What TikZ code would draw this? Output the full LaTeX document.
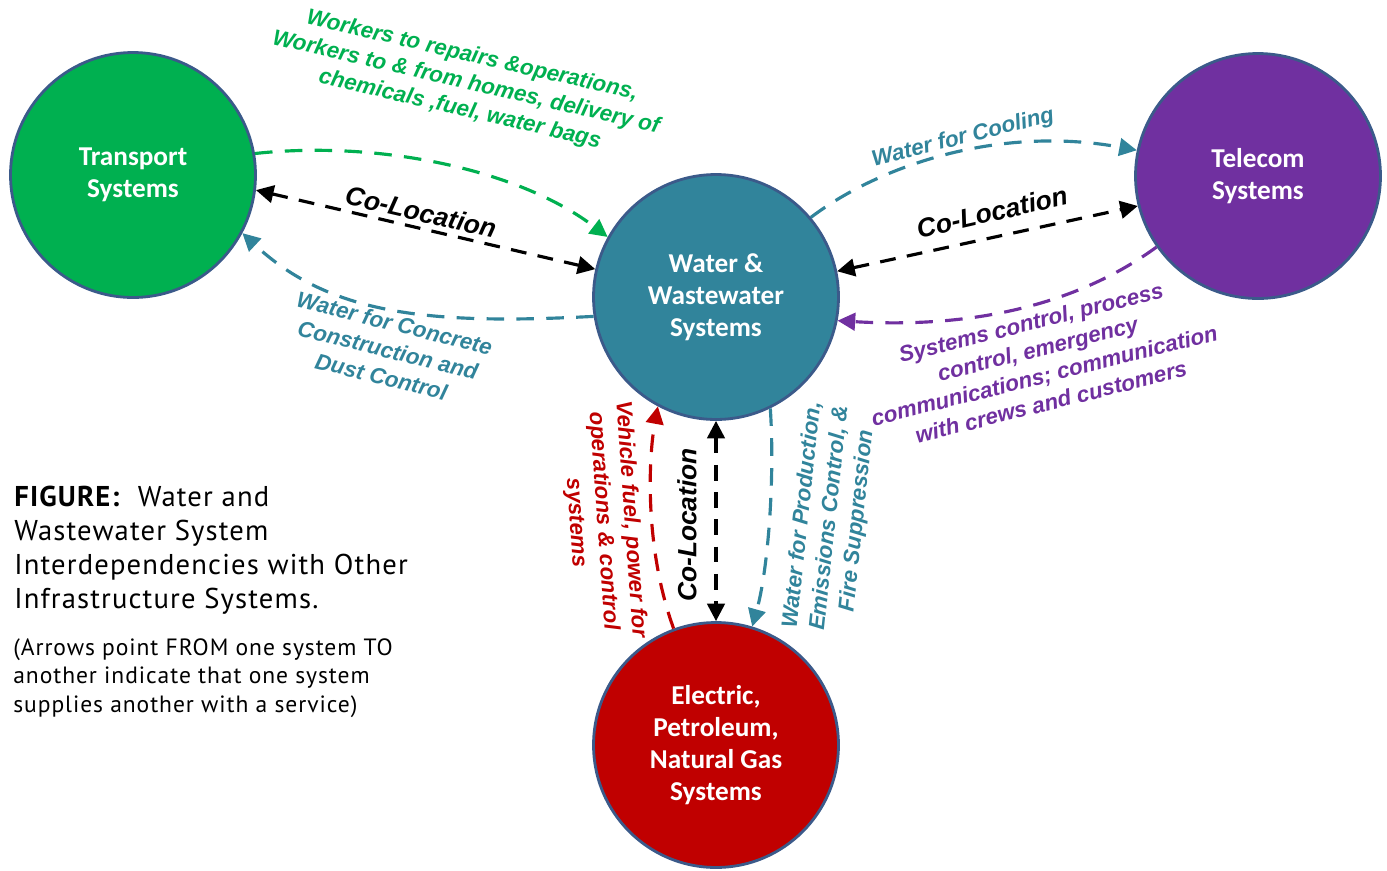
\documentclass[tikz,border=0pt]{standalone}
\usepackage{fontspec}
\setmainfont{Liberation Sans}
\newfontfamily\boxfont{Carlito}
\newfontfamily\capfont[LetterSpace=4]{PT Sans}
\usetikzlibrary{arrows.meta}

\definecolor{trgreen}{HTML}{00B050}
\definecolor{wteal}{HTML}{31849B}
\definecolor{tpurple}{HTML}{7030A0}
\definecolor{ered}{HTML}{C00000}
\definecolor{rimblue}{HTML}{3B5A8A}

\begin{document}
\begin{tikzpicture}[x=0.02cm,y=-0.02cm,
  >={Triangle[length=10pt,width=10pt]},
  sys/.style={circle,draw=rimblue,line width=1.6pt,minimum size=4.9cm,inner sep=0pt,
    text=white,align=center,font=\boxfont\bfseries\fontsize{15.5}{18.3}\selectfont},
  flow/.style={line width=1.8pt,dash pattern=on 10pt off 7pt,->},
  both/.style={line width=1.8pt,dash pattern=on 9pt off 6.5pt,<->,black},
  lbl/.style={inner sep=0pt,align=center,font=\bfseries\itshape\fontsize{12.7}{15.6}\selectfont},
  coloc/.style={inner sep=0pt,font=\bfseries\itshape\fontsize{15}{18}\selectfont}]
  \useasboundingbox (0,0) rectangle (1387,870);

  \node[sys,fill=trgreen] (trans) at (133,175) {Transport\\Systems};
  \node[sys,fill=wteal] (water) at (716,297) {Water \&\\Wastewater\\Systems};
  \node[sys,fill=tpurple] (tele) at (1258,176) {Telecom\\Systems};
  \node[sys,fill=ered] (elec) at (716,745) {Electric,\\Petroleum,\\Natural Gas\\Systems};

  \draw[flow,trgreen] (trans.10) .. controls (380,140) and (520,170) .. (water.151);
  \draw[both] (trans.-7) -- (water.167);
  \draw[flow,wteal] (water.189) .. controls (430,325) and (330,315) .. (trans.-28);
  \draw[flow,wteal] (water.40) .. controls (880,165) and (1000,125) .. (tele.168);
  \draw[both] (water.12) -- (tele.194);
  \draw[flow,tpurple] (tele.215) .. controls (1070,310) and (960,328) .. (water.-11);
  \draw[flow,ered] (elec.110) .. controls (645,550) and (648,460) .. (water.-118);
  \draw[both] (water.south) -- (elec.north);
  \draw[flow,wteal] (water.-64) .. controls (775,480) and (768,570) .. (elec.73);

  \node[lbl,text=trgreen,rotate=-13] (lwork) at (466,83) {Workers to repairs \&operations,\\Workers to \& from homes, delivery of\\chemicals ,fuel, water bags};
  \node[coloc,rotate=-13] (lcol1) at (421,212) {Co-Location};
  \node[lbl,text=wteal,rotate=-14] (lconc) at (388,350) {Water for Concrete\\Construction and\\Dust Control};
  \node[lbl,text=wteal,rotate=14] (lcool) at (963,138) {Water for Cooling};
  \node[coloc,rotate=13] (lcol2) at (992,212) {Co-Location};
  \node[lbl,text=tpurple,rotate=14] (lsys) at (1041,362) {Systems control, process\\control, emergency\\communications; communication\\with crews and customers};
  \node[lbl,text=ered,rotate=-86] (lfuel) at (603,521) {Vehicle fuel, power for\\operations \& control\\systems};
  \node[coloc,rotate=90] (lcol3) at (687,525) {Co-Location};
  \node[lbl,text=wteal,rotate=84] (lprod) at (830,518) {Water for Production,\\Emissions Control, \&\\Fire Suppression};

  % caption
  \node[anchor=north west,inner sep=0pt,align=left,font=\capfont\fontsize{16.3}{19.3}\selectfont] (fig) at (14,486)
    {\textbf{FIGURE:}\ \ Water and\\Wastewater System\\Interdependencies with Other\\Infrastructure Systems.};
  \node[anchor=north west,inner sep=0pt,align=left,font=\capfont\fontsize{13.4}{16.4}\selectfont] (note) at (13,638)
    {(Arrows point FROM one system TO\\another indicate that one system\\supplies another with a service)};
\end{tikzpicture}
\end{document}
